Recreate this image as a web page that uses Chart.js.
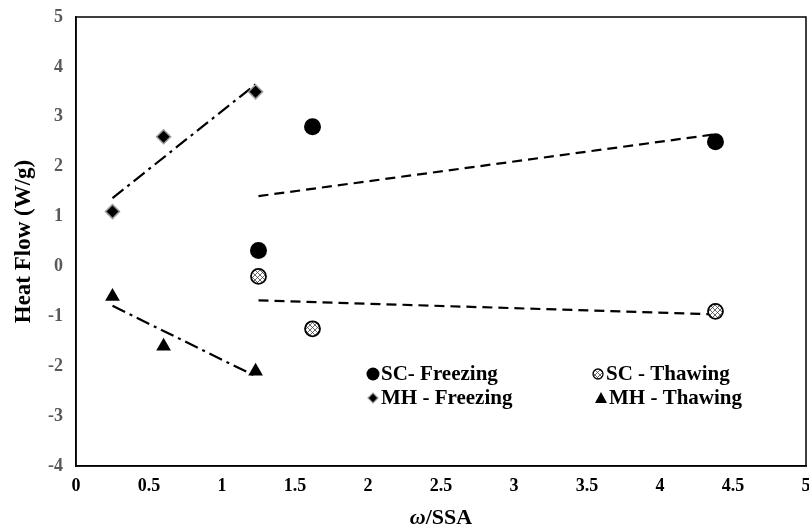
<!DOCTYPE html>
<html lang="en">
<head>
    <meta charset="UTF-8">
    <title>Heat Flow vs w/SSA</title>
    <script src="https://cdn.jsdelivr.net/npm/chart.js"></script>
    <style>
        body { margin: 0; background: #fff; }
        #wrap { width: 809px; height: 532px; }
    </style>
</head>
<body>
    <div id="wrap"><canvas id="chart" width="809" height="532"></canvas></div>
    <script>
        // values
        const xTicks = [0, 0.5, 1, 1.5, 2, 2.5, 3, 3.5, 4, 4.5, 5];
        const yTicks = [-4, -3, -2, -1, 0, 1, 2, 3, 4, 5];

        const mhX = [0.25, 0.6, 1.23];
        const mhFreezing = [1.1, 2.6, 3.5];
        const mhThawing = [-0.6, -1.6, -2.1];

        const scX = [1.25, 1.62, 4.38];
        const scFreezing = [0.32, 2.8, 2.5];
        const scThawing = [-0.2, -1.25, -0.9];

        // trend line end points (as drawn)
        const mhTrendX = [0.25, 1.23];
        const mhFreezeTrend = [1.37, 3.65];
        const mhThawTrend = [-0.79, -2.2];
        const scTrendX = [1.25, 4.38];
        const scFreezeTrend = [1.41, 2.65];
        const scThawTrend = [-0.68, -0.96];

        const pts = (xs, ys) => xs.map((x, i) => ({ x: x, y: ys[i] }));

        // hatched fill for the thawing circles
        function hatch() {
            const c = document.createElement('canvas');
            c.width = 5; c.height = 5;
            const g = c.getContext('2d');
            g.fillStyle = '#fff';
            g.fillRect(0, 0, 5, 5);
            g.strokeStyle = '#444';
            g.lineWidth = 0.8;
            g.beginPath();
            g.moveTo(0, 0); g.lineTo(5, 5);
            g.moveTo(5, 0); g.lineTo(0, 5);
            g.stroke();
            return g.createPattern(c, 'repeat');
        }
        const hatchFill = hatch();

        const serif = '"Liberation Serif", "Times New Roman", serif';

        const frame = {
            id: 'frame',
            afterDraw(chart) {
                const ctx = chart.ctx, a = chart.chartArea;
                ctx.save();
                ctx.strokeStyle = '#000';
                ctx.lineWidth = 1.5;
                ctx.strokeRect(a.left, a.top, a.right - a.left, a.bottom - a.top);

                // x axis title with italic omega
                ctx.fillStyle = '#000';
                ctx.textBaseline = 'middle';
                ctx.font = 'italic bold 22px ' + serif;
                const w1 = ctx.measureText('ω').width;
                ctx.font = 'bold 22px ' + serif;
                const w2 = ctx.measureText('/SSA').width;
                const cx = (a.left + a.right) / 2 - (w1 + w2) / 2;
                ctx.textAlign = 'left';
                ctx.font = 'italic bold 22px ' + serif;
                ctx.fillText('ω', cx, 518);
                ctx.font = 'bold 22px ' + serif;
                ctx.fillText('/SSA', cx + w1, 518);

                // legend
                ctx.font = 'bold 21px ' + serif;
                const items = [
                    { t: 'SC- Freezing', x: 373, y: 374, s: 'circle' },
                    { t: 'SC - Thawing', x: 598, y: 374, s: 'hatch' },
                    { t: 'MH - Freezing', x: 373, y: 398, s: 'diamond' },
                    { t: 'MH - Thawing', x: 601, y: 398, s: 'tri' }
                ];
                items.forEach(it => {
                    ctx.beginPath();
                    if (it.s === 'circle') {
                        ctx.arc(it.x, it.y, 6.5, 0, Math.PI * 2);
                        ctx.fillStyle = '#000'; ctx.fill();
                    } else if (it.s === 'hatch') {
                        ctx.arc(it.x, it.y, 5, 0, Math.PI * 2);
                        ctx.fillStyle = hatchFill; ctx.fill();
                        ctx.lineWidth = 1.3; ctx.strokeStyle = '#000'; ctx.stroke();
                    } else if (it.s === 'diamond') {
                        ctx.moveTo(it.x - 5, it.y); ctx.lineTo(it.x, it.y - 5);
                        ctx.lineTo(it.x + 5, it.y); ctx.lineTo(it.x, it.y + 5);
                        ctx.closePath();
                        ctx.fillStyle = '#000'; ctx.fill();
                        ctx.lineWidth = 1.2; ctx.strokeStyle = '#999'; ctx.stroke();
                    } else {
                        ctx.moveTo(it.x - 6, it.y + 5); ctx.lineTo(it.x, it.y - 6);
                        ctx.lineTo(it.x + 6, it.y + 5);
                        ctx.closePath();
                        ctx.fillStyle = '#000'; ctx.fill();
                    }
                    ctx.fillStyle = '#000';
                    ctx.fillText(it.t, it.x + 8, it.y + 1);
                });
                ctx.restore();
            }
        };

        const trend = (data, dash) => ({
            type: 'line',
            data: data,
            borderColor: '#000',
            borderWidth: 2.2,
            borderDash: dash,
            pointRadius: 0,
            fill: false,
            showLine: true
        });

        const dashDot = [14, 5, 3, 5];
        const dashed = [10, 6];

        new Chart(document.getElementById('chart').getContext('2d'), {
            type: 'scatter',
            data: {
                datasets: [
                    {
                        label: 'SC- Freezing',
                        data: pts(scX, scFreezing),
                        pointStyle: 'circle',
                        pointRadius: 8.5,
                        backgroundColor: '#000',
                        borderColor: '#000',
                        borderWidth: 0
                    },
                    {
                        label: 'SC - Thawing',
                        data: pts(scX, scThawing),
                        pointStyle: 'circle',
                        pointRadius: 7.5,
                        backgroundColor: hatchFill,
                        borderColor: '#000',
                        borderWidth: 1.8
                    },
                    {
                        label: 'MH - Freezing',
                        data: pts(mhX, mhFreezing),
                        pointStyle: 'rectRot',
                        pointRadius: 7,
                        backgroundColor: '#000',
                        borderColor: '#999',
                        borderWidth: 1.5
                    },
                    {
                        label: 'MH - Thawing',
                        data: pts(mhX, mhThawing),
                        pointStyle: 'triangle',
                        pointRadius: 8.5,
                        backgroundColor: '#000',
                        borderColor: '#000',
                        borderWidth: 0
                    },
                    trend(pts(mhTrendX, mhFreezeTrend), dashDot),
                    trend(pts(mhTrendX, mhThawTrend), dashDot),
                    trend(pts(scTrendX, scFreezeTrend), dashed),
                    trend(pts(scTrendX, scThawTrend), dashed)
                ]
            },
            options: {
                responsive: false,
                animation: false,
                layout: { autoPadding: false, padding: { top: 17, right: 3, left: 0, bottom: 0 } },
                plugins: {
                    legend: { display: false },
                    tooltip: { enabled: false }
                },
                scales: {
                    x: {
                        type: 'linear',
                        min: xTicks[0],
                        max: xTicks[xTicks.length - 1],
                        afterBuildTicks: s => { s.ticks = xTicks.map(v => ({ value: v })); },
                        afterFit: s => { s.height = 66; s.paddingLeft = 0; s.paddingRight = 0; },
                        grid: { display: false, drawTicks: false },
                        border: { color: '#000', width: 1.5 },
                        ticks: {
                            color: '#000',
                            padding: 10,
                            maxRotation: 0,
                            callback: v => String(v),
                            font: { family: serif, size: 18, weight: 'bold' }
                        }
                    },
                    y: {
                        type: 'linear',
                        min: yTicks[0],
                        max: yTicks[yTicks.length - 1],
                        afterBuildTicks: s => { s.ticks = yTicks.map(v => ({ value: v })); },
                        afterFit: s => { s.width = 76; s.paddingTop = 0; s.paddingBottom = 0; },
                        grid: { display: false, drawTicks: false },
                        border: { color: '#000', width: 1.5 },
                        ticks: {
                            color: '#595959',
                            padding: 13,
                            callback: v => String(v),
                            font: { family: serif, size: 18, weight: 'bold' }
                        },
                        title: {
                            display: true,
                            text: 'Heat Flow (W/g)',
                            color: '#000',
                            padding: { top: 10, bottom: 0 },
                            font: { family: serif, size: 23, weight: 'bold' }
                        }
                    }
                }
            },
            plugins: [frame]
        });
    </script>
</body>
</html>
